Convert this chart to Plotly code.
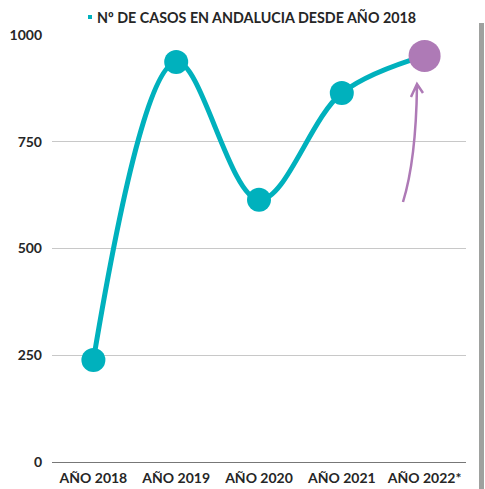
import plotly.graph_objects as go

categories = ["AÑO 2018", "AÑO 2019", "AÑO 2020", "AÑO 2021", "AÑO 2022*"]
values = [239, 937, 614, 864, 951]
point_colors = ["#00B1BD", "#00B1BD", "#00B1BD", "#00B1BD", "#AE7AB6"]
point_sizes = [24, 24, 24, 24, 32]
tick_vals = [0, 250, 500, 750, 1000]
legend_label = "Nº DE CASOS EN ANDALUCIA DESDE AÑO 2018"

TEAL = "#00B1BD"
PURPLE = "#AE7AB6"
FONT = "Lato"
TXT = "#262626"

fig = go.Figure()
fig.add_trace(go.Scatter(
    x=categories, y=values, mode="lines+markers",
    line=dict(color=TEAL, width=5, shape="spline", smoothing=1.0),
    marker=dict(color=point_colors, size=point_sizes, line=dict(width=0), opacity=1),
    cliponaxis=False, showlegend=False, name=legend_label,
))

# legend-like title
fig.add_annotation(xref="paper", yref="paper", x=(256.5 - 52) / 414, y=1.0, yshift=18,
                   text=legend_label, showarrow=False, xanchor="center", yanchor="middle",
                   font=dict(family=FONT, size=14.3, color=TXT, weight="bold"))
# small square marker of the legend
fig.add_shape(type="rect", xref="paper", yref="paper",
              x0=(88 - 52) / 414, x1=(92 - 52) / 414,
              y0=(462 - 15) / 427, y1=(462 - 19) / 427,
              fillcolor=TEAL, line=dict(width=0))

# hand-drawn curved arrow pointing to the 2022 estimate
def px(xp, yp):
    return f"{(xp - 52) / 414:.4f},{(462 - yp) / 427:.4f}"

arrow_path = (f"M {px(403, 202)} Q {px(416, 160)} {px(417, 86)} "
              f"M {px(411, 97)} L {px(417, 84)} L {px(423, 93)}")
fig.add_shape(type="path", xref="paper", yref="paper", path=arrow_path,
              line=dict(color=PURPLE, width=2.5))

# gray bar on the right edge
fig.add_shape(type="rect", xref="paper", yref="paper",
              x0=(479 - 52) / 414, x1=(484 - 52) / 414,
              y0=-0.1, y1=(462 - 23) / 427,
              fillcolor="#9FA19F", line=dict(width=0), layer="below")

fig.update_layout(
    width=485, height=489,
    margin=dict(l=52, r=19, t=35, b=27, autoexpand=False),
    paper_bgcolor="white", plot_bgcolor="white",
    font=dict(family=FONT, size=14, color=TXT),
    xaxis=dict(type="category", range=[-0.5, 4.5], showgrid=False, zeroline=False,
               showline=False, ticks="", tickfont=dict(family=FONT, size=14, color=TXT, weight="bold"),
               ticklabelstandoff=6, automargin=False),
    yaxis=dict(range=[0, 1000], tickvals=tick_vals, showgrid=True, gridcolor="#C8C8C8", gridwidth=1,
               zeroline=True, zerolinecolor="#777777", zerolinewidth=1, showline=False, ticks="",
               tickfont=dict(family=FONT, size=14, color=TXT, weight="bold"),
               ticklabelstandoff=9, automargin=False),
)

fig.write_html("out.html", config={"displayModeBar": False},
               post_script="document.body.style.margin='0';document.body.style.overflow='hidden';")
